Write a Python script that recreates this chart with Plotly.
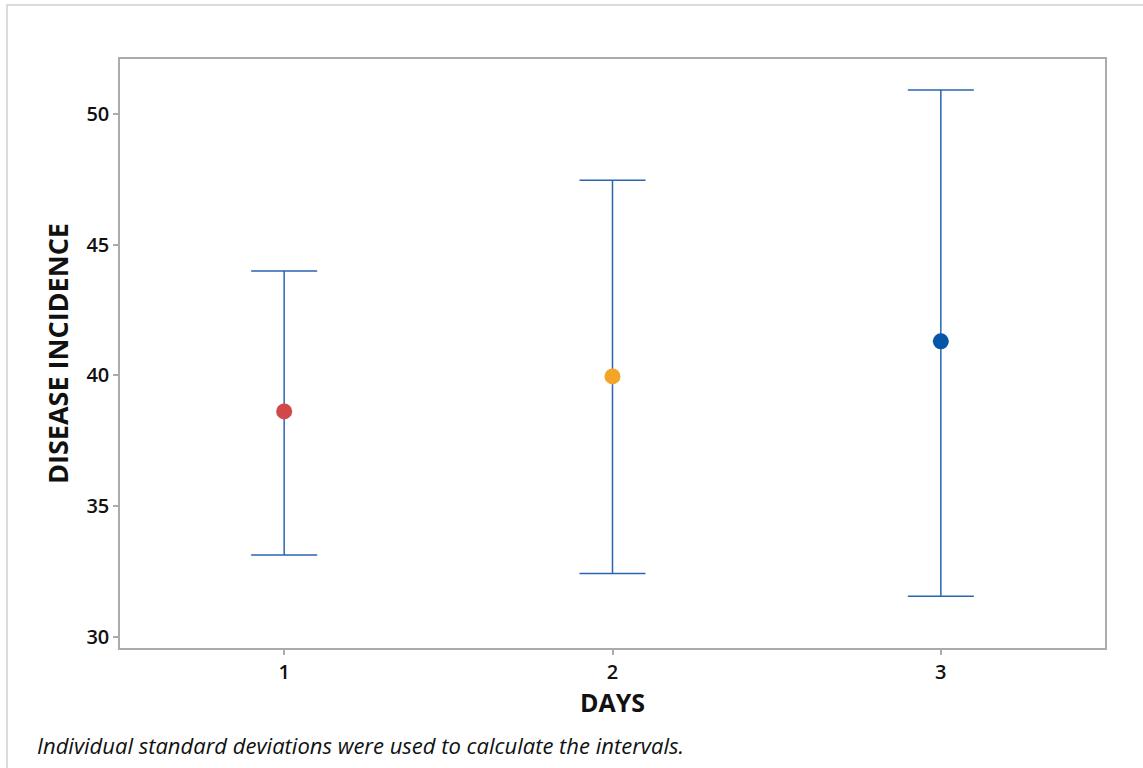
import plotly.graph_objects as go

# Interval plot: mean disease incidence per day with individual-SD intervals
days = [1, 2, 3]
means = [38.62, 39.96, 41.30]
upper = [43.99, 47.46, 50.91]
lower = [33.13, 32.42, 31.55]
point_colors = ["#D0484A", "#F5A42A", "#0556A8"]

err_plus = [u - m for u, m in zip(upper, means)]
err_minus = [m - l for m, l in zip(means, lower)]

FONT = "Open Sans"

fig = go.Figure()
fig.add_trace(go.Scatter(
    x=days, y=means,
    mode="markers",
    marker=dict(size=16, color=point_colors, line=dict(width=0)),
    error_y=dict(type="data", symmetric=False, array=err_plus,
                 arrayminus=err_minus, color="#2A66B0", thickness=1.5, width=33),
    showlegend=False,
))

fig.update_layout(
    width=1143, height=768,
    margin=dict(l=120, r=38, t=59, b=120),
    paper_bgcolor="white", plot_bgcolor="white",
    font=dict(family=FONT, color="#111111", size=20),
    xaxis=dict(
        range=[0.5, 3.5], tickvals=days, ticktext=[str(d) for d in days],
        showline=True, mirror=True, linecolor="#ABABAB", linewidth=1.5,
        ticks="outside", ticklen=5, tickcolor="#ABABAB", tickwidth=1.5,
        showgrid=False, zeroline=False,
        tickfont=dict(size=20, family=FONT, color="#111111", weight=600),
        title=dict(text="<b>DAYS</b>", font=dict(size=25, family=FONT), standoff=8),
    ),
    yaxis=dict(
        range=[29.57, 52.1], tickvals=[30, 35, 40, 45, 50],
        showline=True, mirror=True, linecolor="#ABABAB", linewidth=1.5,
        ticks="outside", ticklen=5, tickcolor="#ABABAB", tickwidth=1.5,
        showgrid=False, zeroline=False,
        tickfont=dict(size=20, family=FONT, color="#111111", weight=600),
        title=dict(text="<b>DISEASE INCIDENCE</b>", font=dict(size=27, family=FONT), standoff=10),
    ),
    shapes=[dict(
        type="rect", xref="paper", yref="paper",
        x0=-0.1147, x1=1.05, y0=-0.3, y1=1.0917,
        line=dict(color="#CFCFCF", width=1.5), layer="below",
    )],
    annotations=[dict(
        text="<i>Individual standard deviations were used to calculate the intervals.</i>",
        xref="paper", yref="paper", x=-0.0863, y=-0.1647,
        xanchor="left", yanchor="middle", showarrow=False,
        font=dict(size=22, family=FONT, color="#111111"),
    )],
)

fig.write_html("out.html")
